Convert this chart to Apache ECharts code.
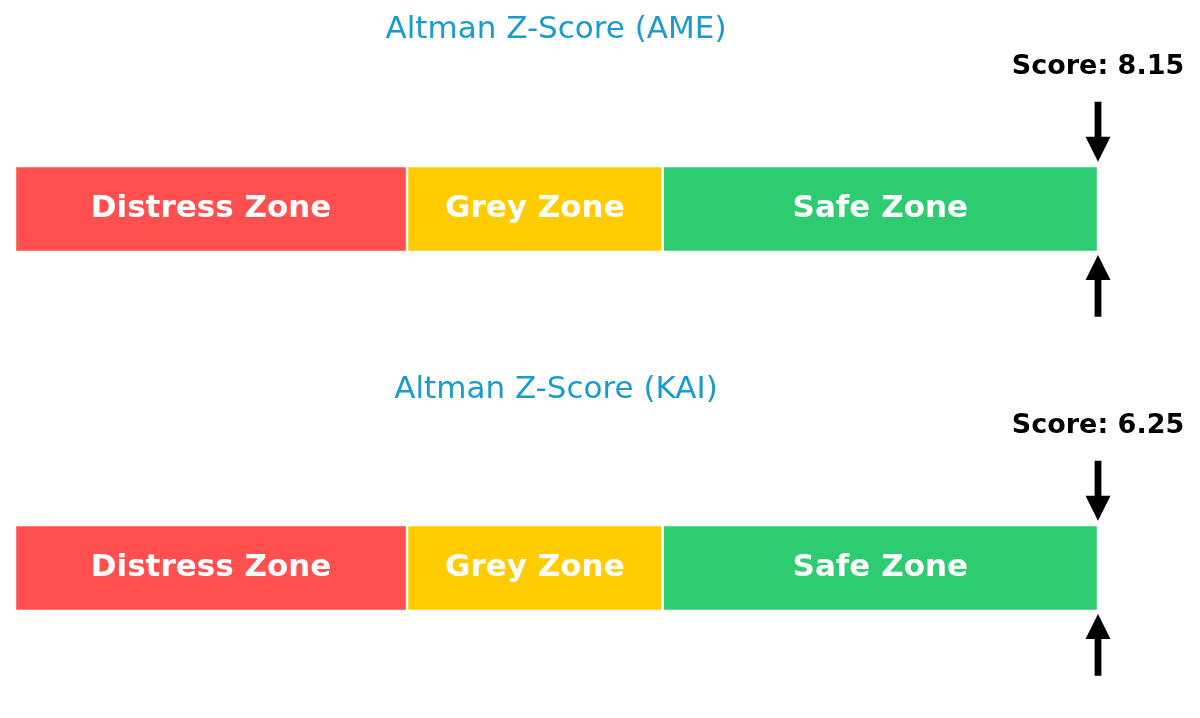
<!DOCTYPE html>
<html>
<head>
<meta charset="utf-8">
<script src="https://cdn.jsdelivr.net/npm/echarts@6/dist/echarts.min.js"></script>
<style>html,body{margin:0;padding:0;background:#fff;}#c{width:1200px;height:718px;}</style>
</head>
<body>
<div id="c"></div>
<script>
const companies = ['AME', 'KAI'];
const scores = [8.15, 6.25];
const zoneNames = ['Distress Zone', 'Grey Zone', 'Safe Zone'];
const zoneBounds = [0, 1.81, 2.99, 5];
const zoneColors = ['#FF4F4F', '#FFCC00', '#2ECC71'];
const axisMax = 5;

const chart = echarts.init(document.getElementById('c'));
const gridTops = [166, 525];
const titleTops = [9, 369];

const grids = [], xAxes = [], yAxes = [], series = [], titles = [];
companies.forEach((co, i) => {
  grids.push({ left: 15, right: 102, top: gridTops[i], height: 86, containLabel: false });
  xAxes.push({ type: 'value', gridIndex: i, min: 0, max: axisMax, show: false });
  yAxes.push({ type: 'category', gridIndex: i, data: [co], show: false });
  titles.push({
    text: 'Altman Z-Score (' + co + ')', left: 551, top: titleTops[i], textAlign: 'center',
    textStyle: { fontFamily: 'DejaVu Sans', fontSize: 31, fontWeight: 'normal', color: '#1A9BCF' }
  });
  zoneNames.forEach((z, k) => {
    series.push({
      type: 'bar', xAxisIndex: i, yAxisIndex: i, stack: 'zones' + i,
      barWidth: '100%', barCategoryGap: 0,
      data: [zoneBounds[k + 1] - zoneBounds[k]],
      itemStyle: { color: zoneColors[k], borderColor: '#ffffff', borderWidth: 1.2 },
      label: { show: true, position: 'inside', formatter: z, color: '#ffffff',
        fontFamily: 'DejaVu Sans', fontWeight: 'bold', fontSize: 31 },
      silent: true, animation: false
    });
  });
  series.push({
    type: 'custom', xAxisIndex: i, yAxisIndex: i, clip: false, animation: false, silent: true,
    data: [[Math.min(scores[i], axisMax), 0, scores[i]]],
    renderItem: function (params, api) {
      const p = api.coord([api.value(0), api.value(1)]);
      const x = p[0], cy = p[1];
      const sw = 3.4, hw = 12.5;
      const topArrow = [
        [x - sw, cy - 107.3], [x + sw, cy - 107.3], [x + sw, cy - 72.3], [x + hw, cy - 72.3],
        [x, cy - 47.3], [x - hw, cy - 72.3], [x - sw, cy - 72.3]
      ];
      const botArrow = [
        [x - sw, cy + 107.7], [x + sw, cy + 107.7], [x + sw, cy + 71], [x + hw, cy + 71],
        [x, cy + 46], [x - hw, cy + 71], [x - sw, cy + 71]
      ];
      return {
        type: 'group',
        children: [
          { type: 'polygon', shape: { points: topArrow }, style: { fill: '#000' } },
          { type: 'polygon', shape: { points: botArrow }, style: { fill: '#000' } },
          { type: 'text', style: { text: 'Score: ' + api.value(2).toFixed(2), x: x, y: cy - 142,
              align: 'center', verticalAlign: 'middle', fill: '#000',
              font: 'bold 27px "DejaVu Sans"' } }
        ]
      };
    }
  });
});

chart.setOption({
  backgroundColor: '#ffffff',
  animation: false,
  title: titles,
  grid: grids,
  xAxis: xAxes,
  yAxis: yAxes,
  series: series
});
</script>
</body>
</html>
